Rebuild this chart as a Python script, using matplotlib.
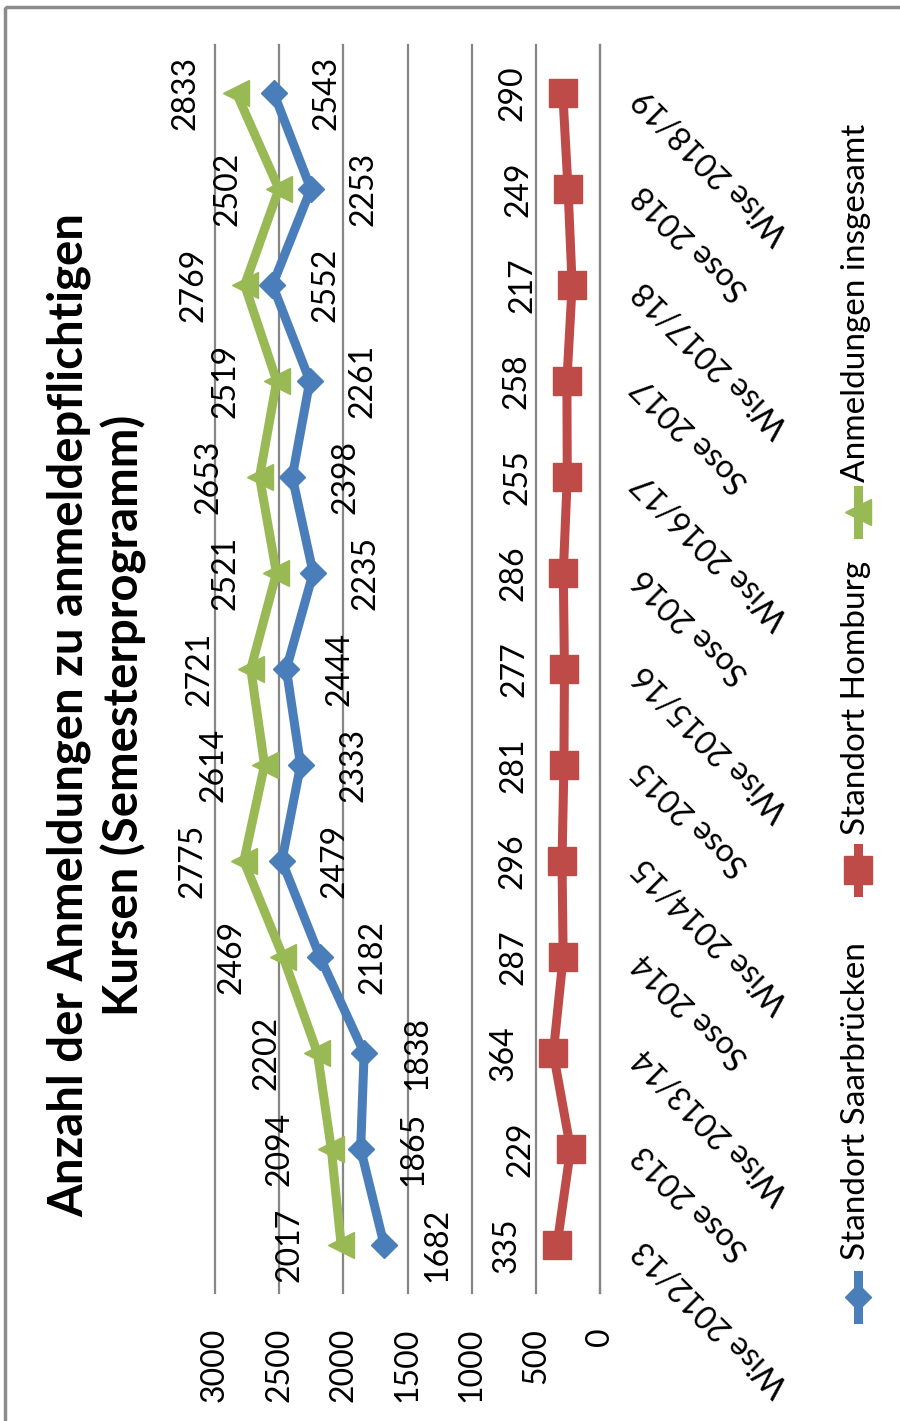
import matplotlib
matplotlib.use("Agg")
import matplotlib.pyplot as plt
from matplotlib.lines import Line2D
from matplotlib.patches import Rectangle

semester = ["Wise 2012/13", "Sose 2013", "Wise 2013/14", "Sose 2014", "Wise 2014/15",
            "Sose 2015", "Wise 2015/16", "Sose 2016", "Wise 2016/17", "Sose 2017",
            "Wise 2017/18", "Sose 2018", "Wise 2018/19"]
saarbruecken = [1682, 1865, 1838, 2182, 2479, 2333, 2444, 2235, 2398, 2261, 2552, 2253, 2543]
homburg = [335, 229, 364, 287, 296, 281, 277, 286, 255, 258, 217, 249, 290]
gesamt = [2017, 2094, 2202, 2469, 2775, 2614, 2721, 2521, 2653, 2519, 2769, 2502, 2833]
ticks = [0, 500, 1000, 1500, 2000, 2500, 3000]

BLUE = "#4A7EBB"
RED = "#BE4B48"
GREEN = "#98B954"
GRID = "#868686"
NUM_FONT = "Lato"
TXT_FONT = "Lato"

W, H = 900, 1421
fig = plt.figure(figsize=(W / 100, H / 100), dpi=100)

# the chart is laid out sideways: values run right-to-left, semesters bottom-to-top
ax = fig.add_axes([215 / W, 128 / H, 385 / W, 1248 / H])
idx = list(range(len(semester)))
ax.set_xlim(3000, 0)
ax.set_ylim(-0.5, len(semester) - 0.5)

ax.set_xticks(ticks, labels=[str(t) for t in ticks], fontsize=23, family=NUM_FONT)
ax.tick_params(axis="x", length=0, pad=25, labelrotation=90)
ax.grid(axis="x", color=GRID, lw=1.6)
for gl in ax.get_xgridlines():
    gl.set_clip_on(False)

ax.yaxis.tick_right()
ax.set_yticks(idx, labels=semester, fontsize=23, family=NUM_FONT,
              rotation=135, rotation_mode="anchor", ha="right", va="center")
ax.tick_params(axis="y", length=0, pad=28)

for s in ["left", "top", "bottom"]:
    ax.spines[s].set_visible(False)
ax.spines["right"].set_color(GRID)
ax.spines["right"].set_linewidth(1.6)

ax.plot(saarbruecken, idx, color=BLUE, lw=6.5, marker="D", ms=13, zorder=3)
ax.plot(homburg, idx, color=RED, lw=6.5, marker="s", ms=20, zorder=3)
ax.plot(gesamt, idx, color=GREEN, lw=6.5, marker="<", ms=19, zorder=3)

for series, off in [(saarbruecken, 38), (homburg, -36), (gesamt, -37)]:
    for i, v in enumerate(series):
        ax.annotate(str(v), (v, i), xytext=(off, 0), textcoords="offset points",
                    rotation=90, ha="center", va="center", fontsize=23,
                    family=NUM_FONT, color="black")

# overlay in pixel units for title, legend and frame
lay = fig.add_axes([0, 0, 1, 1])
lay.set_xlim(0, W)
lay.set_ylim(H, 0)
lay.axis("off")
lay.patch.set_alpha(0)

lay.add_patch(Rectangle((5, 7), W + 10, H + 10, fill=False, ec="#8C8C8C", lw=2.5,
                        clip_on=False))

lay.text(97, 715, "Anzahl der Anmeldungen zu anmeldepflichtigen\nKursen (Semesterprogramm)",
         rotation=90, ha="center", va="center", multialignment="center",
         fontsize=34, fontweight="bold", family=TXT_FONT, linespacing=1.25)

legend_items = [
    ("Standort Saarbrücken", BLUE, "D", 13, 1297, 1260),
    ("Standort Homburg", RED, "s", 20, 870, 835),
    ("Anmeldungen insgesamt", GREEN, "<", 19, 512, 482),
]
for label, col, mk, ms, my, ty in legend_items:
    lay.add_line(Line2D([858, 858], [my + 22, my - 22], color=col, lw=6.5))
    lay.add_line(Line2D([858], [my], color=col, marker=mk, ms=ms, lw=0))
    lay.text(856, ty, label, rotation=90, rotation_mode="anchor", ha="left",
             va="center", fontsize=24, family=TXT_FONT)

fig.savefig("out.png", dpi=100, facecolor="white")
